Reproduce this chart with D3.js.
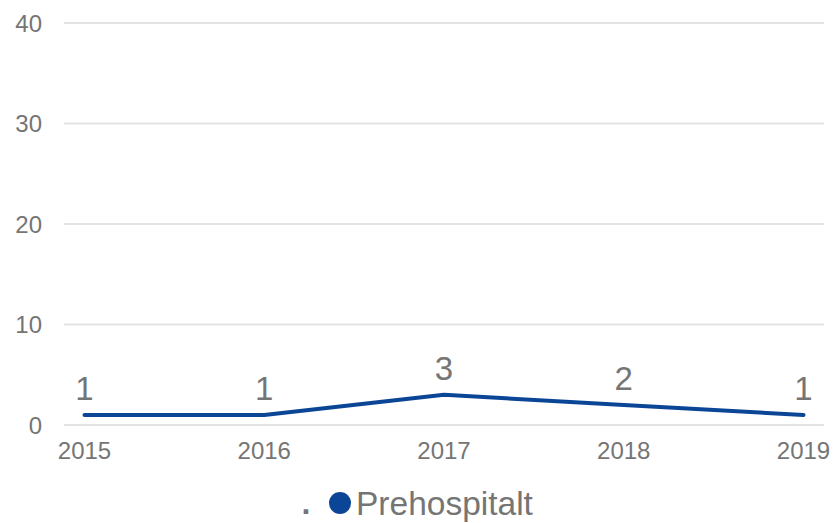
<!DOCTYPE html>
<html><head><meta charset="utf-8">
<script src="https://cdn.jsdelivr.net/npm/d3@7"></script>
<style>body{margin:0;background:#fff}</style></head>
<body><svg id="c" width="834" height="523"></svg>
<script>
const years = ["2015","2016","2017","2018","2019"];
const values = [1,1,3,2,1];
const yTicks = [0,10,20,30,40];
const seriesName = "Prehospitalt";

const svg = d3.select("#c");
const font = "Liberation Sans, Arial, sans-serif";
const grey = "#757575";
const x = d3.scalePoint().domain(years).range([84.5,803.5]);
const y = d3.scaleLinear().domain([0,40]).range([425,23]);

svg.append("g").selectAll("line").data(yTicks).join("line")
  .attr("x1",64).attr("x2",824)
  .attr("y1",d=>y(d)).attr("y2",d=>y(d))
  .attr("stroke","#e3e3e3").attr("stroke-width",2);

svg.append("g").selectAll("text").data(yTicks).join("text")
  .attr("x",42).attr("y",d=>y(d)+8.5).attr("text-anchor","end")
  .attr("font-family",font).attr("font-size",24).attr("fill",grey).text(d=>d);

svg.append("g").selectAll("text").data(years).join("text")
  .attr("x",d=>x(d)).attr("y",459).attr("text-anchor","middle")
  .attr("font-family",font).attr("font-size",24).attr("fill",grey).text(d=>d);

const line = d3.line().x((d,i)=>x(years[i])).y(d=>y(d));
svg.append("path").datum(values).attr("d",line)
  .attr("fill","none").attr("stroke","#0b4595").attr("stroke-width",4)
  .attr("stroke-linejoin","round").attr("stroke-linecap","round");

svg.append("g").selectAll("text").data(values).join("text")
  .attr("x",(d,i)=>x(years[i])).attr("y",d=>y(d)-15).attr("text-anchor","middle")
  .attr("font-family",font).attr("font-size",33).attr("fill",grey).text(d=>d);

const lg = svg.append("g");
lg.append("text").attr("x",306).attr("y",514).attr("text-anchor","middle")
  .attr("font-family",font).attr("font-size",32).attr("font-weight","bold").attr("fill",grey).text(".");
lg.append("circle").attr("cx",340).attr("cy",503).attr("r",11).attr("fill","#0b4595");
lg.append("text").attr("x",356).attr("y",515)
  .attr("font-family",font).attr("font-size",33.5).attr("fill",grey).text(seriesName);
</script></body></html>
